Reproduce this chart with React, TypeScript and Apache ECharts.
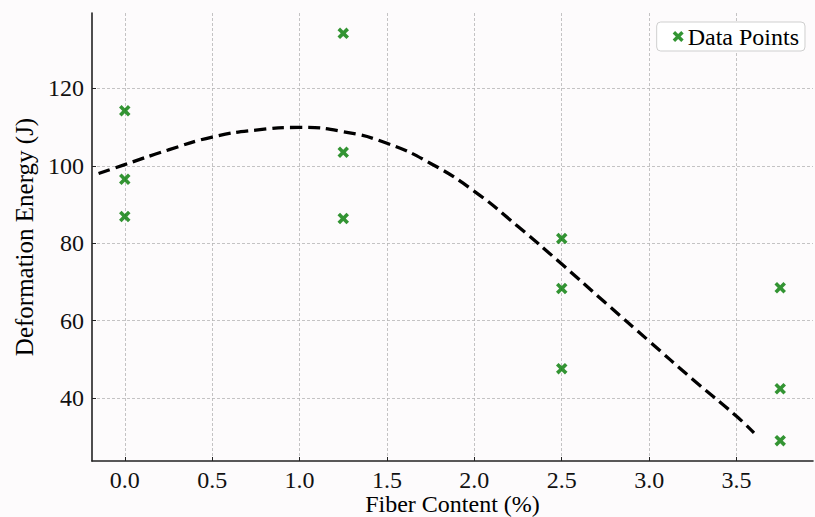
import React, { useEffect, useRef } from "react";
import * as echarts from "echarts";

// Fiber content groups (%) and measured deformation energy (J)
const fiberContent = [0, 1.25, 2.5, 3.75];
const energyAt0 = [114.2, 96.5, 86.9];
const energyAt125 = [134.2, 103.5, 86.4];
const energyAt25 = [81.2, 68.3, 47.6];
const energyAt375 = [68.5, 42.4, 29.0];

// Fitted trend curve
const fitX = [-0.15, 0, 0.25, 0.5, 0.75, 1.0, 1.25, 1.5, 1.75, 2.0, 2.25, 2.5, 2.75, 3.0, 3.25, 3.5, 3.6];
const fitY = [98.0, 100.3, 104.1, 107.4, 109.2, 109.9, 108.8, 105.8, 100.6, 93.4, 84.3, 74.6, 64.6, 54.7, 44.8, 35.3, 31.0];

// Tick labels
const xTicks = [0, 0.5, 1.0, 1.5, 2.0, 2.5, 3.0, 3.5];
const yTicks = [40, 60, 80, 100, 120];

const xMin = -0.1875;
const xMax = 3.9375;
const yMin = 23.74;
const yMax = 139.46;

const FONT = "'Liberation Serif', 'Times New Roman', serif";
const GREEN = "#007a00";
const X_PATH =
  "path://M2.2,0 L5,2.8 L7.8,0 L10,2.2 L7.2,5 L10,7.8 L7.8,10 L5,7.2 L2.2,10 L0,7.8 L2.8,5 L0,2.2 Z";

export default function App() {
  const ref = useRef<HTMLDivElement>(null);

  useEffect(() => {
    if (!ref.current) return;
    const chart = echarts.init(ref.current, null, { renderer: "svg" });

    const groups = [energyAt0, energyAt125, energyAt25, energyAt375];
    const scatterData: number[][] = [];
    groups.forEach((vals, i) => {
      vals.forEach((v) => scatterData.push([fiberContent[i], v]));
    });
    const fitData = fitX.map((x, i) => [x, fitY[i]]);

    const gridLine = {
      show: true,
      lineStyle: { color: "#b5b5b5", width: 0.8, type: [3, 2] as number[] },
    };

    chart.setOption({
      animation: false,
      backgroundColor: "#fdfbfc",
      grid: { left: 92, right: 2, top: 13, bottom: 56, outerBoundsMode: "none", containLabel: false },
      legend: {
        data: [{ name: "Data Points", icon: X_PATH }],
        right: 10,
        top: 22,
        itemWidth: 11,
        itemHeight: 11,
        padding: [2, 6, 2, 16],
        borderColor: "#cfcfcf",
        borderWidth: 1,
        borderRadius: 4,
        backgroundColor: "#ffffff",
        textStyle: { fontFamily: FONT, fontSize: 24, color: "#000", lineHeight: 25, padding: [0, 0, 0, -1] },
      },
      xAxis: {
        type: "value",
        min: xMin,
        max: xMax,
        name: "Fiber Content (%)",
        nameLocation: "middle",
        nameGap: 31,
        nameMoveOverlap: false,
        nameTextStyle: { fontFamily: FONT, fontSize: 24, color: "#000", lineHeight: 24, verticalAlign: "top" },
        axisLine: { show: true, onZero: false, lineStyle: { color: "#222", width: 1.6 } },
        axisTick: { show: true, inside: true, length: 4, customValues: xTicks, lineStyle: { color: "#222" } },
        axisLabel: {
          customValues: xTicks,
          margin: 7,
          fontFamily: FONT,
          fontSize: 24,
          color: "#111",
          formatter: (v: number) => v.toFixed(1),
        },
        splitLine: gridLine,
      },
      yAxis: {
        type: "value",
        min: yMin,
        max: yMax,
        name: "Deformation Energy (J)",
        nameLocation: "middle",
        nameGap: 55,
        nameRotate: 90,
        nameTextStyle: { fontFamily: FONT, fontSize: 25, color: "#000" },
        axisLine: { show: true, onZero: false, lineStyle: { color: "#222", width: 1.6 } },
        axisTick: { show: true, inside: true, length: 4, customValues: yTicks, lineStyle: { color: "#222" } },
        axisLabel: {
          customValues: yTicks,
          margin: 8,
          fontFamily: FONT,
          fontSize: 24,
          color: "#111",
        },
        splitLine: gridLine,
      },
      series: [
        {
          name: "Fit",
          type: "line",
          data: fitData,
          showSymbol: false,
          smooth: 0.5,
          lineStyle: { color: "#000", width: 3.3, type: [12, 6] },
          z: 3,
        },
        {
          name: "Data Points",
          type: "scatter",
          data: scatterData,
          symbol: X_PATH,
          symbolSize: 11.5,
          itemStyle: { color: GREEN },
          z: 4,
        },
      ],
    });

    return () => chart.dispose();
  }, []);

  return (
    <div
      ref={ref}
      style={{ position: "absolute", left: 0, top: 0, width: 815, height: 517 }}
    />
  );
}
